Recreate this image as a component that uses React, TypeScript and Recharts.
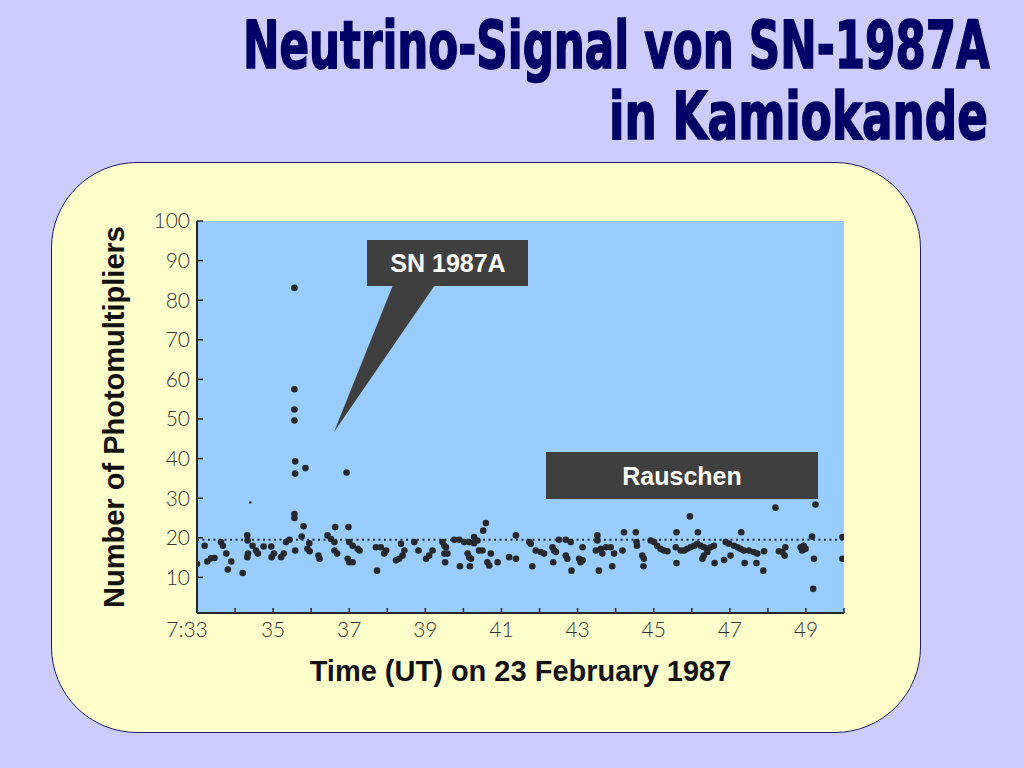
import React, { useLayoutEffect, useRef, useState } from "react"
import {
  ScatterChart,
  Scatter,
  XAxis,
  YAxis,
  CartesianGrid,
  ReferenceLine,
} from "recharts"

// minutes after 7:00 UT, number of hit photomultipliers
const burstEvents: [number, number][] = [
  [35.56, 83.1], [35.56, 57.5], [35.56, 52.4], [35.56, 49.6], [35.58, 39.3],
  [35.58, 36.2], [35.85, 37.6], [36.93, 36.5], [35.56, 26.0], [35.56, 25.0],
]

const noise33to37: [number, number][] = [
  [33.0, 13.4], [33.2, 18.0], [33.27, 14.0], [33.37, 14.8], [33.46, 14.9],
  [33.63, 18.9], [33.68, 18.0], [33.77, 16.0], [33.9, 14.0], [33.81, 12.0],
  [34.2, 11.1], [34.32, 20.6], [34.33, 19.3], [34.32, 15.1], [34.34, 16.0],
  [34.46, 18.0], [34.55, 16.8], [34.6, 16.0], [34.75, 17.8], [34.95, 17.8],
  [34.96, 15.1], [35.02, 16.0], [35.21, 15.1], [35.28, 16.0], [35.34, 18.9],
  [35.43, 19.5], [35.58, 16.8], [35.8, 22.9], [35.75, 20.3], [35.95, 18.6],
  [35.9, 17.2], [35.96, 16.6], [36.19, 15.5], [36.22, 14.7], [36.43, 20.6],
  [36.52, 19.7], [36.61, 18.9], [36.61, 16.8], [36.68, 16.0], [36.63, 22.7],
  [36.98, 22.7],
]

const noise37to41: [number, number][] = [
  [37.0, 18.9], [37.09, 18.0], [37.22, 17.2], [37.27, 16.8], [36.96, 14.7],
  [37.0, 13.8], [37.09, 13.8], [37.7, 17.6], [37.83, 17.6], [37.97, 16.8],
  [37.92, 16.0], [37.73, 11.7], [38.23, 14.3], [38.31, 14.7], [38.4, 15.5],
  [38.45, 16.8], [38.36, 18.5], [38.71, 18.9], [38.82, 16.8], [39.02, 14.7],
  [39.1, 15.5], [39.19, 16.8], [39.45, 18.9], [39.5, 18.0], [39.54, 17.6],
  [39.5, 16.0], [39.58, 16.0], [39.52, 13.8], [39.76, 19.5], [39.89, 19.5],
  [40.02, 18.9], [40.15, 18.9], [40.28, 20.2], [40.37, 19.3], [40.28, 18.6],
  [40.52, 21.8], [40.59, 23.7], [40.41, 16.8], [40.5, 16.8], [40.11, 16.0],
  [40.15, 15.1], [40.2, 14.7], [39.91, 12.8], [40.17, 12.8], [40.63, 13.8],
  [40.68, 13.0], [40.72, 16.0], [40.9, 13.8],
]

const noise41to45: [number, number][] = [
  [41.2, 15.1], [41.38, 14.7], [41.38, 20.6], [41.73, 18.9], [41.77, 18.5],
  [41.81, 12.8], [41.9, 16.8], [42.03, 16.4], [42.12, 16.0], [42.34, 17.6],
  [42.38, 16.8], [42.43, 16.4], [42.36, 13.8], [42.51, 19.5], [42.69, 19.5],
  [42.82, 18.9], [42.69, 15.5], [42.73, 14.7], [42.84, 11.7], [43.04, 14.7],
  [43.08, 13.8], [43.13, 14.3], [43.13, 17.6], [43.52, 20.6], [43.52, 19.3],
  [43.56, 11.7], [43.48, 16.8], [43.61, 17.2], [43.74, 17.6], [43.87, 17.6],
  [43.65, 16.0], [43.91, 12.8], [43.96, 16.0], [44.22, 21.4], [44.18, 16.8],
  [44.53, 21.4], [44.55, 18.9], [44.56, 18.0], [44.7, 15.5], [44.74, 14.7],
  [44.73, 12.8], [44.92, 19.3], [45.01, 18.9],
]

const noise45to50: [number, number][] = [
  [45.09, 18.0], [45.18, 17.2], [45.27, 16.8], [45.36, 16.6], [45.6, 21.4],
  [45.58, 17.6], [45.6, 13.6], [45.71, 16.8], [45.8, 16.8], [45.88, 17.2],
  [45.97, 17.6], [46.06, 18.0], [46.15, 18.5], [46.23, 18.0], [46.32, 17.6],
  [46.41, 17.2], [46.5, 17.6], [46.58, 18.0], [45.95, 25.4], [46.16, 21.4],
  [46.28, 14.7], [46.32, 15.5], [46.41, 16.4], [46.6, 13.6], [46.85, 14.4],
  [47.02, 15.5], [46.89, 18.9], [46.98, 18.5], [47.11, 18.0], [47.2, 17.6],
  [47.28, 17.2], [47.37, 16.8], [47.5, 16.8], [47.63, 16.4], [47.72, 16.0],
  [47.3, 21.4], [47.39, 13.6], [47.7, 13.6], [47.9, 16.6], [47.88, 11.7],
  [48.2, 27.6], [48.29, 16.6], [48.38, 16.4], [48.44, 15.5], [48.46, 17.6],
  [48.86, 17.6], [48.9, 16.8], [48.99, 17.2], [48.94, 18.0], [49.16, 20.3],
  [49.25, 28.4], [49.21, 14.7], [49.19, 7.1], [49.96, 20.2], [49.96, 14.7],
]

const faintEvents: [number, number][] = [[34.4, 28.9]]

const threshold = 19.5

const minuteTicks = [33, 34, 35, 36, 37, 38, 39, 40, 41, 42, 43, 44, 45, 46, 47, 48, 49, 50]
const countTicks = [10, 20, 30, 40, 50, 60, 70, 80, 90, 100]
const minorCountTicks = [
  2, 4, 6, 8, 12, 14, 16, 18, 22, 24, 26, 28, 32, 34, 36, 38, 42, 44, 46, 48,
  52, 54, 56, 58, 62, 64, 66, 68, 72, 74, 76, 78, 82, 84, 86, 88, 92, 94, 96, 98,
]

const toPoints = (pairs: [number, number][]) => pairs.map(([t, v]) => ({ t, v }))

const events = toPoints([
  ...burstEvents,
  ...noise33to37,
  ...noise37to41,
  ...noise41to45,
  ...noise45to50,
])
const faint = toPoints(faintEvents)

const frame = "#23262a"
const tickFont = { fill: "#333", fontSize: 21, fontFamily: "Lato, 'Open Sans', sans-serif", fontWeight: 300 }

function TimeTick({ x, y, payload }: any) {
  const v = payload.value
  if (v % 2 === 0 || v > 49) return <g />
  const label = v === 33 ? "7:33" : String(v)
  return (
    <text x={v === 33 ? x - 10 : x} y={y} dy="0.71em" textAnchor="middle" {...tickFont}>
      {label}
    </text>
  )
}

const Dot = (p: any) => <circle cx={p.cx} cy={p.cy} r={3.3} fill="#25292d" />
const SmallDot = (p: any) => <circle cx={p.cx} cy={p.cy} r={1.3} fill="#25292d" />

// condensed heading: the text is measured once and squeezed horizontally to the wanted width
function FitTitle({ x, y, width, children }: { x: number; y: number; width: number; children: string }) {
  const ref = useRef<SVGTextElement>(null)
  const [sx, setSx] = useState(1)
  useLayoutEffect(() => {
    if (ref.current) {
      const w = ref.current.getComputedTextLength()
      if (w > 0) setSx(width / w)
    }
  }, [width])
  return (
    <g transform={`translate(${x}, ${y}) scale(${sx}, 1)`}>
      <text ref={ref} x={0} y={0}>
        {children}
      </text>
    </g>
  )
}

export default function App() {
  return (
    <div
      style={{
        position: "absolute",
        left: 0,
        top: 0,
        width: 1024,
        height: 768,
        background: "#ccccff",
        overflow: "hidden",
        fontFamily: "'Liberation Sans', Arial, sans-serif",
      }}
    >
      <div
        style={{
          position: "absolute",
          left: 51,
          top: 162,
          width: 868,
          height: 569,
          background: "#ffffcc",
          border: "1.5px solid #1c1c6a",
          borderRadius: 86,
        }}
      />
      <div style={{ position: "absolute", left: 0, top: 0 }}>
        <ScatterChart width={1024} height={768} margin={{ top: 221, right: 180, bottom: 85, left: 87 }}>
          <CartesianGrid fill="#99ccff" horizontal={false} vertical={false} />
          <XAxis
            type="number"
            dataKey="t"
            domain={[33, 50]}
            ticks={minuteTicks}
            interval={0}
            allowDataOverflow
            height={70}
            axisLine={{ stroke: frame, strokeWidth: 2 }}
            tickLine={{ stroke: frame, strokeWidth: 1.5 }}
            tickSize={-5}
            tickMargin={14}
            tick={<TimeTick />}
            label={{
              content: ({ viewBox }: any) => (
                <text
                  x={viewBox.x + viewBox.width / 2}
                  y={viewBox.y + 68}
                  textAnchor="middle"
                  fontSize={29}
                  fontWeight="bold"
                  fontFamily="'Liberation Sans', Arial, sans-serif"
                  fill="#111"
                >
                  Time (UT) on 23 February 1987
                </text>
              ),
            }}
          />
          <XAxis
            xAxisId="top"
            orientation="top"
            type="number"
            domain={[33, 50]}
            height={0}
            tick={false}
            tickLine={false}
            axisLine={{ stroke: frame, strokeWidth: 2 }}
          />
          <YAxis
            type="number"
            dataKey="v"
            domain={[1, 100]}
            ticks={countTicks}
            interval={0}
            allowDataOverflow
            width={110}
            axisLine={{ stroke: frame, strokeWidth: 2 }}
            tickLine={{ stroke: frame, strokeWidth: 1.5 }}
            tickSize={-6}
            tickMargin={13}
            tick={tickFont}
            label={{
              content: ({ viewBox }: any) => (
                <text
                  transform={`translate(${viewBox.x + 37}, ${viewBox.y + viewBox.height / 2}) rotate(-90)`}
                  textAnchor="middle"
                  fontSize={29}
                  fontWeight="bold"
                  fontFamily="'Liberation Sans', Arial, sans-serif"
                  fill="#111"
                >
                  Number of Photomultipliers
                </text>
              ),
            }}
          />
          <YAxis
            yAxisId="minor"
            type="number"
            domain={[1, 100]}
            ticks={minorCountTicks}
            interval={0}
            width={0}
            axisLine={false}
            tickLine={{ stroke: frame, strokeWidth: 1 }}
            tickSize={-3}
            tick={false}
          />
          <YAxis
            yAxisId="right"
            orientation="right"
            type="number"
            domain={[1, 100]}
            ticks={countTicks}
            interval={0}
            width={0}
            axisLine={{ stroke: frame, strokeWidth: 2 }}
            tickLine={{ stroke: frame, strokeWidth: 1.5 }}
            tickSize={-5}
            tick={false}
          />
          <ReferenceLine y={threshold} stroke="#1d2b3a" strokeWidth={2} strokeDasharray="2 3.5" />
          <Scatter data={faint} shape={SmallDot} isAnimationActive={false} />
          <Scatter data={events} shape={Dot} isAnimationActive={false} />
        </ScatterChart>
      </div>
      <svg
        width={1024}
        height={768}
        style={{ position: "absolute", left: 0, top: 0, pointerEvents: "none" }}
      >
        <g
          fill="#000066"
          stroke="#000066"
          strokeWidth={1.6}
          fontFamily="'Liberation Sans Narrow', 'DejaVu Sans Condensed', 'Liberation Sans', sans-serif"
          fontWeight="bold"
          fontSize={66}
        >
          <FitTitle x={243} y={68} width={747}>
            Neutrino-Signal von SN-1987A
          </FitTitle>
          <FitTitle x={609} y={139} width={379}>
            in Kamiokande
          </FitTitle>
        </g>
        <polygon points="393,285 435,285 334,432" fill="#3f3f3f" />
        <rect x={367} y={240} width={161} height={46} fill="#3f3f3f" />
        <text x={448} y={272} textAnchor="middle" fill="#fff" fontSize={25} fontWeight="bold">
          SN 1987A
        </text>
        <rect x={546} y={452} width={272} height={47} fill="#3f3f3f" />
        <text x={682} y={485} textAnchor="middle" fill="#fff" fontSize={25} fontWeight="bold">
          Rauschen
        </text>
      </svg>
    </div>
  )
}
